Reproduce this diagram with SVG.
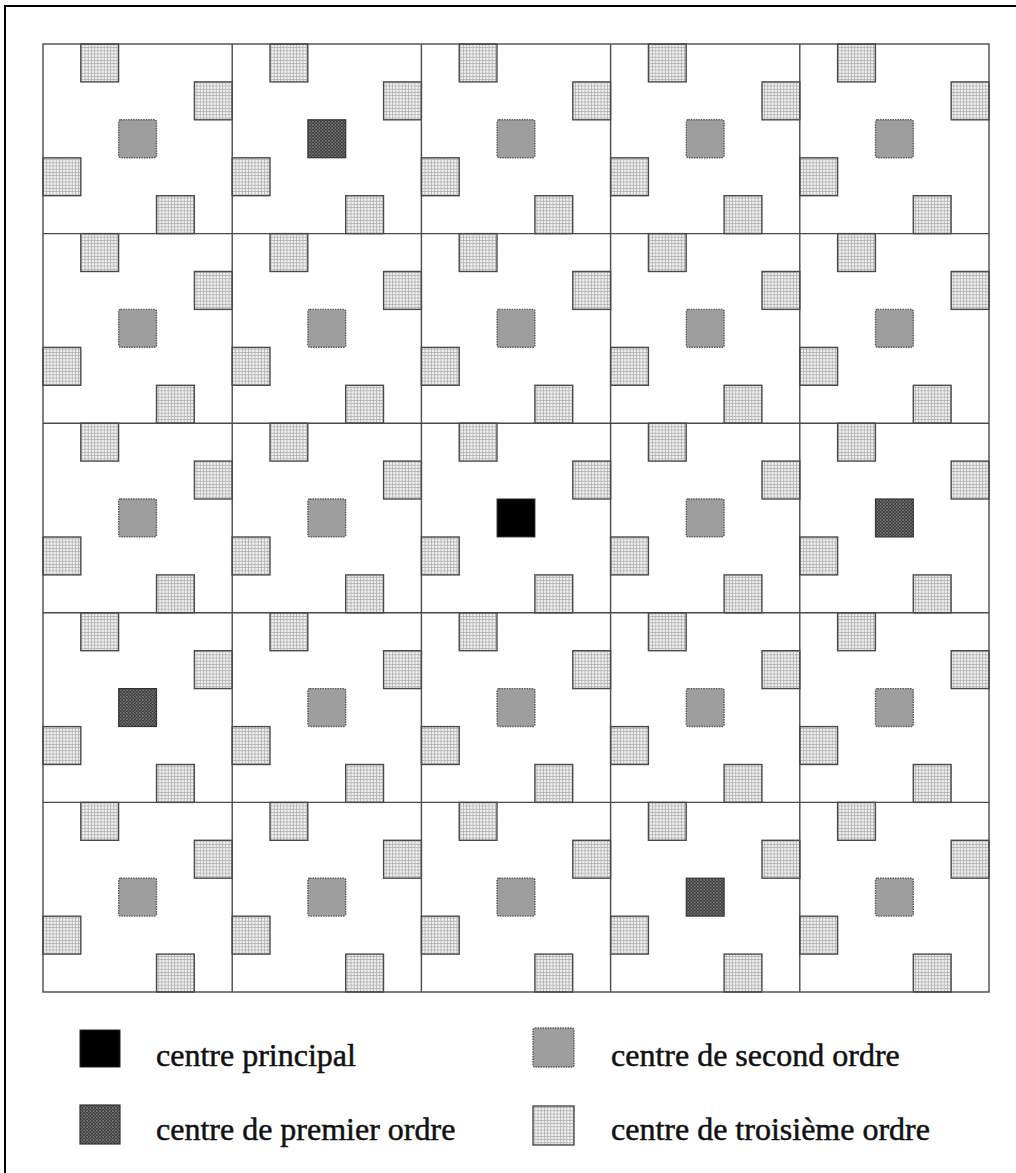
<svg xmlns="http://www.w3.org/2000/svg" xmlns:xlink="http://www.w3.org/1999/xlink" width="1016" height="1173" viewBox="0 0 1016 1173">
<style>
.frame{fill:none;stroke:#000;stroke-width:2}
.grid{fill:none;stroke:#4a4a4a;stroke-width:1.4}
.c0{fill:#000;stroke:#222;stroke-width:1}
.c1{fill:url(#p1);stroke:#333;stroke-width:1.2}
.c2{fill:#9e9e9e;stroke:#5a5a5a;stroke-width:1.4;stroke-dasharray:1.5 1}
.c3{fill:url(#p3);stroke:#4a4a4a;stroke-width:1.4}
.lbl{font-family:"Liberation Serif","Times New Roman",serif;font-size:32px;fill:#111;stroke:#111;stroke-width:0.5}
</style>
<defs>
<pattern id="p3" patternUnits="userSpaceOnUse" width="3.2" height="3.2">
<rect width="3.2" height="3.2" fill="#b4b4b4"/>
<rect x="0.9" y="0.9" width="2.2" height="2.2" fill="#f8f8f8"/>
</pattern>
<pattern id="p1" patternUnits="userSpaceOnUse" width="3.2" height="3.2">
<rect width="3.2" height="3.2" fill="#3c3c3c"/>
<rect x="0" y="0" width="1.6" height="1.6" fill="#7a7a7a"/>
<rect x="1.6" y="1.6" width="1.6" height="1.6" fill="#666"/>
</pattern>
<g id="thirds">
<rect class="c3" x="37.8" y="0" width="37.8" height="37.9"/>
<rect class="c3" x="151.4" y="37.9" width="37.8" height="37.9"/>
<rect class="c3" x="0" y="113.8" width="37.8" height="37.9"/>
<rect class="c3" x="113.5" y="151.7" width="37.8" height="37.9"/>
</g>
</defs>
<rect width="1016" height="1173" fill="#fff"/>
<rect class="frame" x="5" y="6" width="1030" height="1190"/>

<g id="cells">
<g id="cell-0-0" transform="translate(43,44)"><use href="#thirds"/><rect class="c2" x="75.7" y="75.8" width="37.8" height="37.9" rx="2"/></g>
<g id="cell-0-1" transform="translate(232.2,44)"><use href="#thirds"/><rect class="c1" x="75.7" y="75.8" width="37.8" height="37.9"/></g>
<g id="cell-0-2" transform="translate(421.4,44)"><use href="#thirds"/><rect class="c2" x="75.7" y="75.8" width="37.8" height="37.9" rx="2"/></g>
<g id="cell-0-3" transform="translate(610.6,44)"><use href="#thirds"/><rect class="c2" x="75.7" y="75.8" width="37.8" height="37.9" rx="2"/></g>
<g id="cell-0-4" transform="translate(799.8,44)"><use href="#thirds"/><rect class="c2" x="75.7" y="75.8" width="37.8" height="37.9" rx="2"/></g>

<g id="cell-1-0" transform="translate(43,233.6)"><use href="#thirds"/><rect class="c2" x="75.7" y="75.8" width="37.8" height="37.9" rx="2"/></g>
<g id="cell-1-1" transform="translate(232.2,233.6)"><use href="#thirds"/><rect class="c2" x="75.7" y="75.8" width="37.8" height="37.9" rx="2"/></g>
<g id="cell-1-2" transform="translate(421.4,233.6)"><use href="#thirds"/><rect class="c2" x="75.7" y="75.8" width="37.8" height="37.9" rx="2"/></g>
<g id="cell-1-3" transform="translate(610.6,233.6)"><use href="#thirds"/><rect class="c2" x="75.7" y="75.8" width="37.8" height="37.9" rx="2"/></g>
<g id="cell-1-4" transform="translate(799.8,233.6)"><use href="#thirds"/><rect class="c2" x="75.7" y="75.8" width="37.8" height="37.9" rx="2"/></g>

<g id="cell-2-0" transform="translate(43,423.2)"><use href="#thirds"/><rect class="c2" x="75.7" y="75.8" width="37.8" height="37.9" rx="2"/></g>
<g id="cell-2-1" transform="translate(232.2,423.2)"><use href="#thirds"/><rect class="c2" x="75.7" y="75.8" width="37.8" height="37.9" rx="2"/></g>
<g id="cell-2-2" transform="translate(421.4,423.2)"><use href="#thirds"/><rect class="c0" x="75.7" y="75.8" width="37.8" height="37.9"/></g>
<g id="cell-2-3" transform="translate(610.6,423.2)"><use href="#thirds"/><rect class="c2" x="75.7" y="75.8" width="37.8" height="37.9" rx="2"/></g>
<g id="cell-2-4" transform="translate(799.8,423.2)"><use href="#thirds"/><rect class="c1" x="75.7" y="75.8" width="37.8" height="37.9"/></g>

<g id="cell-3-0" transform="translate(43,612.8)"><use href="#thirds"/><rect class="c1" x="75.7" y="75.8" width="37.8" height="37.9"/></g>
<g id="cell-3-1" transform="translate(232.2,612.8)"><use href="#thirds"/><rect class="c2" x="75.7" y="75.8" width="37.8" height="37.9" rx="2"/></g>
<g id="cell-3-2" transform="translate(421.4,612.8)"><use href="#thirds"/><rect class="c2" x="75.7" y="75.8" width="37.8" height="37.9" rx="2"/></g>
<g id="cell-3-3" transform="translate(610.6,612.8)"><use href="#thirds"/><rect class="c2" x="75.7" y="75.8" width="37.8" height="37.9" rx="2"/></g>
<g id="cell-3-4" transform="translate(799.8,612.8)"><use href="#thirds"/><rect class="c2" x="75.7" y="75.8" width="37.8" height="37.9" rx="2"/></g>

<g id="cell-4-0" transform="translate(43,802.4)"><use href="#thirds"/><rect class="c2" x="75.7" y="75.8" width="37.8" height="37.9" rx="2"/></g>
<g id="cell-4-1" transform="translate(232.2,802.4)"><use href="#thirds"/><rect class="c2" x="75.7" y="75.8" width="37.8" height="37.9" rx="2"/></g>
<g id="cell-4-2" transform="translate(421.4,802.4)"><use href="#thirds"/><rect class="c2" x="75.7" y="75.8" width="37.8" height="37.9" rx="2"/></g>
<g id="cell-4-3" transform="translate(610.6,802.4)"><use href="#thirds"/><rect class="c1" x="75.7" y="75.8" width="37.8" height="37.9"/></g>
<g id="cell-4-4" transform="translate(799.8,802.4)"><use href="#thirds"/><rect class="c2" x="75.7" y="75.8" width="37.8" height="37.9" rx="2"/></g>
</g>

<g id="grid">
<rect class="grid" x="43" y="44" width="946" height="948"/>
<path class="grid" d="M232.2 44V992M421.4 44V992M610.6 44V992M799.8 44V992M43 233.6H989M43 423.2H989M43 612.8H989M43 802.4H989"/>
</g>

<g id="legend">
<g id="leg-principal"><rect class="c0" x="80" y="1030" width="40" height="37"/><text class="lbl" x="156" y="1066">centre principal</text></g>
<g id="leg-premier"><rect class="c1" x="80" y="1105" width="40" height="39"/><text class="lbl" x="156" y="1140">centre de premier ordre</text></g>
<g id="leg-second"><rect class="c2" x="533" y="1028" width="41" height="39" rx="2"/><text class="lbl" x="611" y="1066">centre de second ordre</text></g>
<g id="leg-troisieme"><rect class="c3" x="533" y="1106" width="41" height="39"/><text class="lbl" x="611" y="1140">centre de troisième ordre</text></g>
</g>
</svg>
